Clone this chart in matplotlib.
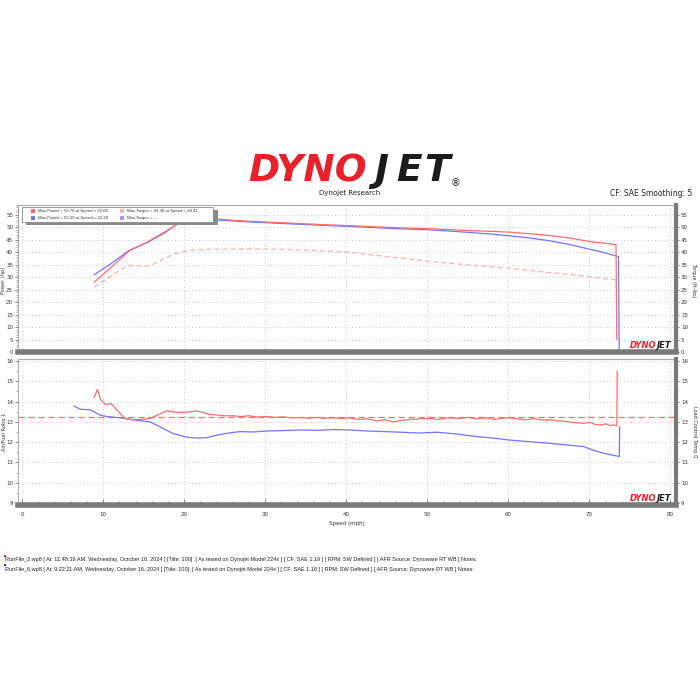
import matplotlib
matplotlib.use('Agg')
import matplotlib.pyplot as plt
from matplotlib.patches import Rectangle
from matplotlib.ticker import MultipleLocator

# ------------------------------------
# Datos
# ------------------------------------
# Potencia corrida 2 (roja)
speed_pw_red = [8.9, 11.0, 13.2, 15.5, 17.5, 19.5, 21.0, 22.1, 24.0, 26.0, 28.0, 30.0, 32.0, 34.0, 36.0,
                38.0, 40.5, 43.0, 45.5, 48.0, 50.4, 53.0, 55.5, 58.0, 60.2, 62.5, 65.0, 67.5, 70.1, 71.5,
                72.8, 73.3, 73.4]
power_red = [28.0, 34.0, 40.5, 44.2, 48.0, 52.0, 53.2, 53.7, 53.4, 52.9, 52.5, 52.2, 51.9, 51.6, 51.3,
             51.0, 50.7, 50.3, 50.0, 49.7, 49.5, 49.1, 48.7, 48.4, 48.1, 47.5, 46.8, 45.8, 44.3, 43.8,
             43.3, 43.0, 5.0]

# Potencia corrida 6 (azul)
speed_pw_blue = [8.9, 11.0, 13.2, 15.5, 17.5, 19.5, 21.0, 22.3, 24.0, 26.0, 28.0, 30.0, 32.0, 34.0, 36.0,
                 38.0, 40.5, 43.0, 45.5, 48.0, 50.4, 53.0, 55.5, 58.0, 60.2, 62.5, 65.0, 67.5, 70.1, 71.5,
                 72.8, 73.6, 73.7]
power_blue = [31.0, 35.5, 40.8, 44.0, 47.6, 52.2, 53.0, 53.3, 53.0, 52.6, 52.2, 51.9, 51.6, 51.3, 51.0,
              50.7, 50.4, 50.0, 49.6, 49.3, 49.0, 48.5, 47.9, 47.3, 46.6, 45.8, 44.7, 43.2, 41.2, 40.2,
              39.0, 38.3, 0.0]

# Torque corrida 2
speed_tq = [8.9, 11.0, 13.0, 14.5, 15.8, 17.5, 19.1, 21.0, 23.0, 25.0, 28.4, 32.0, 36.4, 40.5, 45.0,
            50.4, 55.0, 60.2, 65.0, 68.0, 70.0, 71.5, 73.3, 73.4]
torque_red = [26.0, 30.5, 34.7, 34.6, 34.5, 37.5, 39.7, 41.0, 41.2, 41.3, 41.36, 41.2, 40.7, 40.0, 38.3,
              36.3, 35.0, 33.6, 31.9, 31.0, 30.2, 29.6, 28.9, 6.0]

# AFR corrida 2
speed_afr_red = [8.9, 9.3, 9.7, 10.3, 11.0, 11.9, 12.7, 13.7, 14.8, 15.8, 16.8, 17.9, 18.9, 19.9, 20.8,
                 21.6, 22.4, 23.2, 24.2, 25.1, 26.1, 27.0, 28.0, 29.0, 30.2, 31.2, 32.2, 33.3, 34.3, 35.3,
                 36.4, 37.4, 38.4, 39.4, 40.5, 41.5, 42.6, 43.7, 44.8, 45.8, 46.9, 48.0, 49.2, 50.4, 51.5,
                 52.6, 53.8, 55.0, 56.1, 57.2, 58.3, 59.3, 60.2, 61.2, 62.2, 63.2, 64.2, 65.2, 66.2, 67.2,
                 68.3, 69.3, 70.1, 70.8, 71.4, 72.0, 72.6, 73.1, 73.4, 73.45]
afr_red = [14.2, 14.6, 14.1, 13.85, 13.9, 13.5, 13.17, 13.1, 13.12, 13.17, 13.35, 13.54, 13.48, 13.47, 13.5,
           13.54, 13.45, 13.37, 13.33, 13.3, 13.3, 13.26, 13.3, 13.24, 13.26, 13.22, 13.25, 13.2, 13.21, 13.18,
           13.22, 13.17, 13.2, 13.16, 13.2, 13.12, 13.15, 13.05, 13.1, 13.0, 13.08, 13.12, 13.15, 13.17, 13.12,
           13.2, 13.16, 13.22, 13.15, 13.2, 13.12, 13.18, 13.2, 13.14, 13.1, 13.16, 13.08, 13.1, 13.05, 13.02,
           12.96, 12.93, 12.98, 12.86, 12.85, 12.9, 12.82, 12.85, 12.8, 15.5]

# AFR corrida 6
speed_afr_blue = [6.4, 7.2, 8.4, 9.6, 10.5, 12.1, 13.7, 15.8, 17.0, 18.6, 20.4, 21.6, 22.8, 24.1, 25.5,
                  26.9, 28.5, 30.2, 32.2, 34.3, 36.4, 38.4, 40.5, 42.6, 44.7, 46.7, 49.0, 51.2, 53.7, 56.2,
                  58.2, 60.2, 62.7, 65.2, 67.3, 69.3, 70.5, 71.8, 73.0, 73.7, 73.75]
afr_blue = [13.78, 13.62, 13.6, 13.34, 13.26, 13.2, 13.1, 13.0, 12.76, 12.43, 12.24, 12.2, 12.22, 12.35, 12.45,
            12.52, 12.5, 12.55, 12.57, 12.6, 12.58, 12.62, 12.6, 12.55, 12.52, 12.49, 12.45, 12.49, 12.4, 12.27,
            12.2, 12.1, 12.02, 11.94, 11.86, 11.78, 11.6, 11.45, 11.35, 11.29, 12.76]

afr_target = 13.25

legend_txt = ['Max Power = 53.70 at Speed = 22.08', 'Max Power = 53.29 at Speed = 22.28',
              'Max Torque = 41.36 at Speed = 28.42', 'Max Torque = ---']

footer = [
    'RunFile_2.wp8 [ At: 11:48:36 AM, Wednesday, October 16, 2024 ] [Title: 100]  [ As tested on Dynojet Model 224x ] '
    '[ CF: SAE 1.19 ] [ RPM: SW Defined ] [ AFR Source: Dynoware RT WB ] Notes:',
    'RunFile_6.wp8 [ At: 9:22:21 AM, Wednesday, October 16, 2024 ] [Title: 100]  [ As tested on Dynojet Model 224x ] '
    '[ CF: SAE 1.18 ] [ RPM: SW Defined ] [ AFR Source: Dynoware RT WB ] Notes:',
]

# colores
c_red = '#ff6e6e'
c_red_lt = '#ffb0b0'
c_blue = '#7474ff'
c_blue_lt = '#9a9aff'
c_dyno = '#e8212b'
c_jet = '#1c1c1c'
c_txt = '#333333'

W = H = 700.0


def fx(px):
    return px / W


def fy(py):
    return 1 - py / H


fig = plt.figure(figsize=(7, 7), dpi=100)
fig.patch.set_facecolor('white')

# ------------------------------------
# Encabezado
# ------------------------------------
fig.text(fx(367), fy(171), 'DYNO', color=c_dyno, fontsize=27, fontweight='heavy', style='italic',
         ha='right', va='center')
for letra, xc in zip('JET', [381, 409, 437]):
    fig.text(fx(xc), fy(171), letra, color=c_jet, fontsize=27, fontweight='heavy', style='italic',
             ha='center', va='center')
fig.text(fx(455), fy(183), '®', color=c_jet, fontsize=7, ha='center', va='center')
fig.text(fx(350), fy(193), 'Dynojet Research', color='#222222', fontsize=5, ha='center', va='center')
fig.text(fx(692), fy(193), 'CF: SAE Smoothing: 5', color='#222222', fontsize=5.5, ha='right', va='center')


def style_axes(ax, ax2, major, minor):
    ax.set_xlim(-0.5, 80.7)
    ax.grid(True, which='major', linestyle=(0, (1, 2.5)), color='#c8c8c8', linewidth=0.7)
    ax.yaxis.set_major_locator(MultipleLocator(major))
    ax.yaxis.set_minor_locator(MultipleLocator(minor))
    ax.xaxis.set_major_locator(MultipleLocator(10))
    ax.xaxis.set_minor_locator(MultipleLocator(2))
    for a in (ax, ax2):
        a.tick_params(axis='y', which='major', labelsize=4, length=2.5, width=0.5, colors='#555555',
                      labelcolor=c_txt, pad=1)
        a.tick_params(axis='y', which='minor', length=1.3, width=0.4, colors='#777777')
    ax2.yaxis.set_major_locator(MultipleLocator(major))
    ax2.yaxis.set_minor_locator(MultipleLocator(minor))
    ax.spines['left'].set_color('#999999')
    ax.spines['left'].set_linewidth(0.6)
    ax.spines['top'].set_color('#aaaaaa')
    ax.spines['top'].set_linewidth(0.8)
    ax2.spines['right'].set_color('#7a7a7a')
    ax2.spines['right'].set_linewidth(3)
    for s in ('left', 'top', 'bottom'):
        ax2.spines[s].set_visible(False)
    ax.spines['right'].set_visible(False)
    ax.spines['bottom'].set_color('#7a7a7a')
    ax.spines['bottom'].set_linewidth(4)


def mini_logo(ax):
    ax.text(0.9705, 0.012, 'DYNO', transform=ax.transAxes, color=c_dyno, fontsize=6, fontweight='heavy',
            style='italic', ha='right', va='bottom', zorder=5)
    ax.text(0.9695, 0.012, 'JET', transform=ax.transAxes, color=c_jet, fontsize=6, fontweight='heavy',
            style='italic', ha='left', va='bottom', zorder=5)


# ------------------------------------
# Grafico de potencia / torque
# ------------------------------------
ax1 = fig.add_axes([fx(18), fy(352), fx(676) - fx(18), (352 - 205) / H])
ax1b = ax1.twinx()
ax1.set_ylim(0, 59)
ax1b.set_ylim(0, 59)
style_axes(ax1, ax1b, 5, 1)
ax1.tick_params(axis='x', which='both', labelbottom=False, direction='in', length=0)

ax1.plot(speed_tq, torque_red, color=c_red_lt, linestyle=(0, (4, 2.5)), linewidth=0.9)
ax1.plot(speed_pw_blue, power_blue, color=c_blue, linewidth=0.9)
ax1.plot(speed_pw_red, power_red, color=c_red, linewidth=0.9)
mini_logo(ax1)

# ------------------------------------
# Grafico de AFR
# ------------------------------------
ax2 = fig.add_axes([fx(18), fy(505), fx(676) - fx(18), (505 - 359) / H])
ax2b = ax2.twinx()
ax2.set_ylim(8.9, 16.1)
ax2b.set_ylim(8.9, 16.1)
style_axes(ax2, ax2b, 1, 0.5)
ax2.tick_params(axis='x', which='major', labelsize=4, labelcolor=c_txt, direction='in', length=4,
                width=0.5, colors='#555555', pad=5)
ax2.tick_params(axis='x', which='minor', direction='in', length=3, width=0.5, colors='#555555')

ax2.axhline(afr_target, color=c_red, linestyle=(0, (5, 3)), linewidth=0.9)
ax2.plot(speed_afr_blue, afr_blue, color=c_blue, linewidth=0.9)
ax2.plot(speed_afr_red, afr_red, color=c_red, linewidth=0.9)

ax2.set_xlabel('Speed (mph)', fontsize=4, color=c_txt, labelpad=3)
mini_logo(ax2)

# etiquetas de ejes y
fig.text(fx(4), fy(280), 'Power (hp)', fontsize=3.6, color=c_txt, rotation=90, ha='center', va='center')
fig.text(fx(4), fy(432), 'Air/Fuel Ratio 1', fontsize=3.6, color=c_txt, rotation=90, ha='center',
         va='center')
fig.text(fx(694), fy(280), 'Torque (ft-lbs)', fontsize=3.6, color=c_txt, rotation=270, ha='center',
         va='center')
fig.text(fx(694), fy(432), 'Load Control Temp 0', fontsize=3.6, color=c_txt, rotation=270, ha='center',
         va='center')

# ------------------------------------
# Leyenda manual
# ------------------------------------
fig.add_artist(Rectangle((fx(26), fy(225)), fx(192), 15 / H, transform=fig.transFigure,
                         facecolor='#8a8a8a', edgecolor='none', zorder=10))
fig.add_artist(Rectangle((fx(22), fy(222)), fx(191), 15 / H, transform=fig.transFigure,
                         facecolor='white', edgecolor='#8a8a8a', linewidth=0.6, zorder=11))
leg_cols = [c_red, c_blue, c_red_lt, c_blue_lt]
leg_pos = [(33, 211), (33, 218), (122, 211), (122, 218)]
for (px, py), col, txt in zip(leg_pos, leg_cols, legend_txt):
    fig.add_artist(Rectangle((fx(px - 2), fy(py + 2)), 4 / W, 4 / H, transform=fig.transFigure,
                             facecolor=col, edgecolor='none', zorder=12))
    fig.text(fx(px + 5), fy(py), txt, fontsize=3.1, color=c_txt, ha='left', va='center', zorder=12,
             family='Liberation Sans')

# ------------------------------------
# Pie de pagina
# ------------------------------------
for i, (txt, col) in enumerate(zip(footer, [c_dyno, '#2020e0'])):
    y = 559 + i * 9
    fig.add_artist(Rectangle((fx(4), fy(y - 2)), 2 / W, 2 / H, transform=fig.transFigure,
                             facecolor=col, edgecolor='none'))
    fig.text(fx(5), fy(y + 1), txt, fontsize=4.0, color='#222222', ha='left', va='center',
             family='Liberation Sans')

fig.savefig('out.png', dpi=100)
